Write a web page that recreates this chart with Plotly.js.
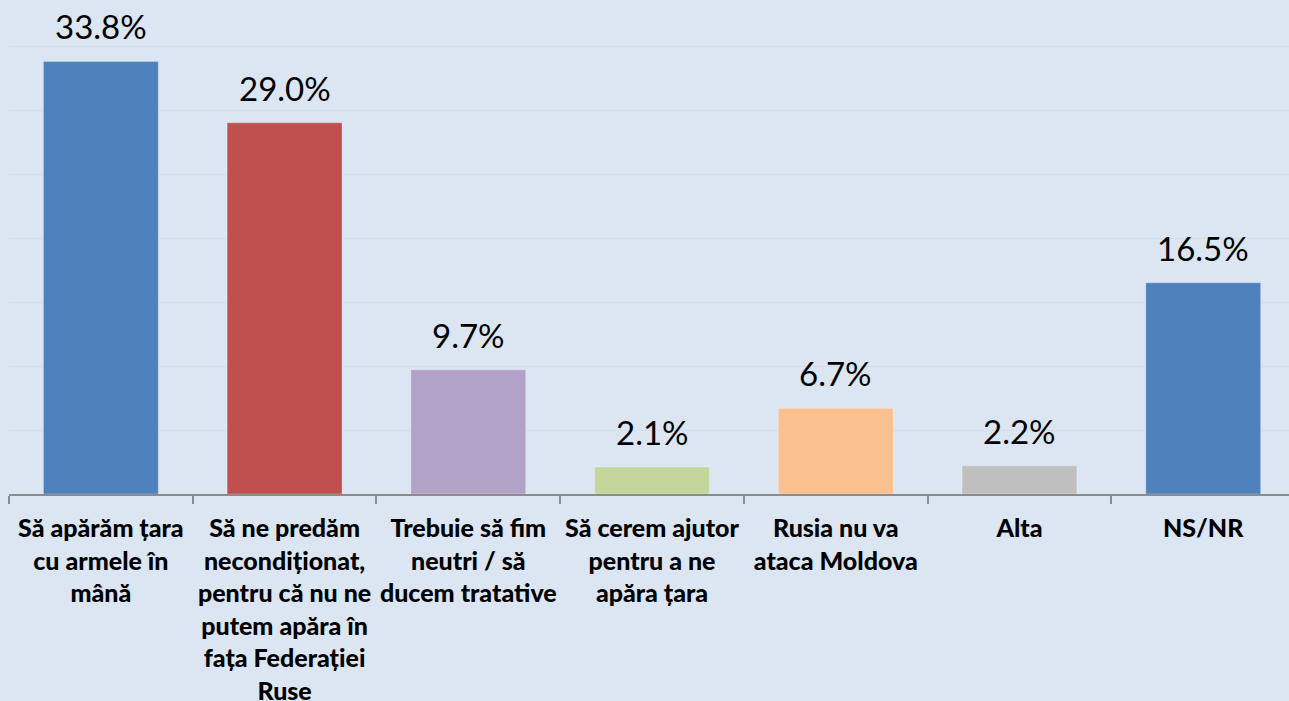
<!DOCTYPE html>
<html>
<head>
<meta charset="utf-8">
<script src="https://cdn.plot.ly/plotly-3.0.1.min.js"></script>
<style>html,body{margin:0;padding:0;background:#dce6f2;}#chart{width:1289px;height:701px;}</style>
</head>
<body>
<div id="chart"></div>
<script>
const categories = [
  "Să apărăm țara<br>cu armele în<br>mână",
  "Să ne predăm<br>necondiționat,<br>pentru că nu ne<br>putem apăra în<br>fața Federației<br>Ruse",
  "Trebuie să fim<br>neutri / să<br>ducem tratative",
  "Să cerem ajutor<br>pentru a ne<br>apăra țara",
  "Rusia nu va<br>ataca Moldova",
  "Alta",
  "NS/NR"
];
const values = [33.8, 29.0, 9.7, 2.1, 6.7, 2.2, 16.5];
const valueLabels = ["33.8%", "29.0%", "9.7%", "2.1%", "6.7%", "2.2%", "16.5%"];
const barColors = ["#4f81bd", "#c0504d", "#b2a2c7", "#c3d69b", "#fac090", "#bfbfbf", "#4f81bd"];

const trace = {
  type: "bar",
  x: categories,
  y: values,
  marker: {color: barColors, line: {color: "rgba(255,255,255,0.25)", width: 1}},
  width: 0.625,
  hoverinfo: "none"
};

const annotations = categories.map((c, i) => ({
  x: c, y: values[i], xref: "x", yref: "y",
  text: valueLabels[i], showarrow: false,
  yanchor: "bottom", yshift: 13,
  font: {family: "Lato, 'Open Sans', sans-serif", size: 33, color: "#000000"}
}));

const layout = {
  width: 1289, height: 701,
  paper_bgcolor: "#dce6f2", plot_bgcolor: "#dce6f2",
  margin: {l: 9, r: 0, t: 0, b: 207},
  showlegend: false,
  bargap: 0.375,
  xaxis: {
    type: "category",
    range: [-0.5, 6.467],
    showline: true, linecolor: "#8c8c8c", linewidth: 2,
    ticks: "outside", tickson: "boundaries", ticklen: 8, tickcolor: "#8c8c8c", tickwidth: 2,
    showgrid: false, automargin: false,
    tickangle: 0, ticklabelstandoff: 11,
    tickfont: {family: "Lato, 'Open Sans', sans-serif", size: 25, color: "#000000", weight: 900}
  },
  yaxis: {
    range: [0, 38.6],
    showticklabels: false, ticks: "",
    dtick: 5, tick0: 0,
    showgrid: true, gridcolor: "#d2deeb", gridwidth: 1,
    zeroline: false, showline: false, fixedrange: true
  },
  annotations: annotations
};

Plotly.newPlot("chart", [trace], layout, {staticPlot: true, displayModeBar: false});
</script>
</body>
</html>
